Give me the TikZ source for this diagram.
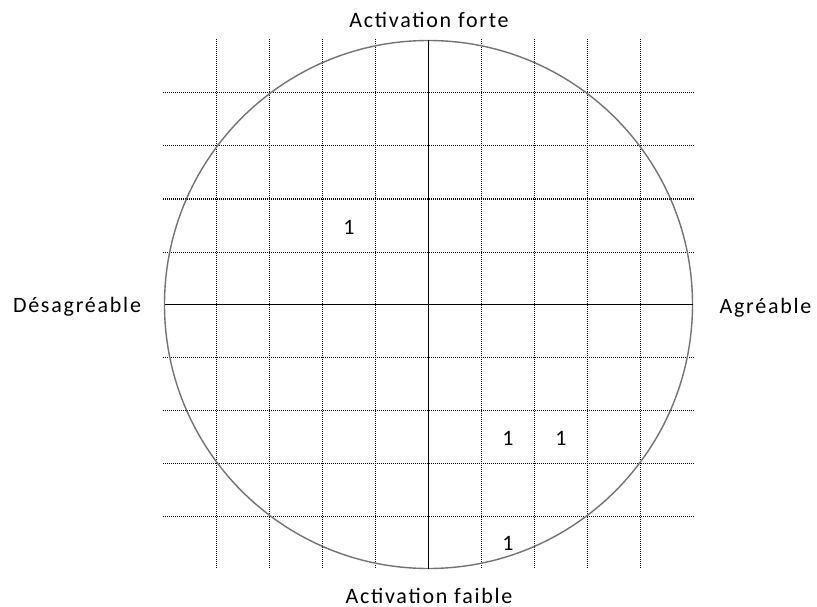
\documentclass[tikz,border=0pt]{standalone}
\usepackage{fontspec}
\setmainfont[LetterSpace=8]{Carlito}
\begin{document}
\begin{tikzpicture}[x=1pt,y=-1pt,
  gridline/.style={line width=1pt,dash pattern=on 1pt off 1pt,black},
  axisline/.style={line width=1.3pt,black},
  rim/.style={line width=1.4pt,black!55},
  lbl/.style={font=\fontsize{22}{26}\selectfont,inner sep=0pt,anchor=base},
  num/.style={font=\fontsize{22}{26}\selectfont,inner sep=0pt}]
\fill[white] (0,0) rectangle (817,607);
\useasboundingbox (0,0) rectangle (817,607);
% grid
\foreach \gx in {216.5,269.5,322.5,375.5,481.5,534.5,587.5,640.5}
  \draw[gridline] (\gx,39) -- (\gx,569);
\foreach \gy in {93,146,199,252,357,410,463,516}
  \draw[gridline] (163,\gy) -- (695,\gy);
% circle and axes
\node[circle,draw,rim,minimum size=528pt,inner sep=0pt] (c) at (428.5,304.5) {};
\coordinate (top) at (428.5,40.5);
\coordinate (bot) at (428.5,568.5);
\coordinate (lft) at (164.5,304.5);
\coordinate (rgt) at (692.5,304.5);
\draw[axisline] (top) -- (bot);
\draw[axisline] (lft) -- (rgt);
% labels
\node[lbl] (af) at (429,28) {Activation forte};
\node[lbl] (afb) at (429,603) {Activation faible};
\node[lbl] (des) at (77,312.5) {Désagréable};
\node[lbl] (agr) at (765.5,313) {Agréable};
% numbers
\node[num] (n1) at (349,227) {1};
\node[num] (n2) at (508,438) {1};
\node[num] (n3) at (561,438) {1};
\node[num] (n4) at (508,543) {1};
\end{tikzpicture}
\end{document}
